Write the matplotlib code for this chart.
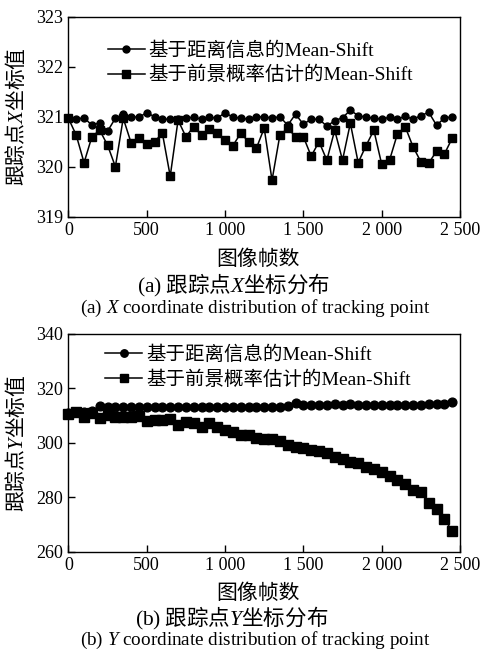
import matplotlib
matplotlib.use("Agg")
import matplotlib.pyplot as plt
from matplotlib.font_manager import FontProperties
from matplotlib.ticker import FuncFormatter

plt.rcParams['mathtext.fontset'] = 'custom'
plt.rcParams['mathtext.rm'] = 'Liberation Serif'
plt.rcParams['mathtext.it'] = 'Liberation Serif:italic'

frames = list(range(0, 2500, 50))

x_dist = [320.97, 320.95, 320.98, 320.83, 320.88, 320.71, 320.97, 321.05, 321.00, 320.99,
          321.08, 321.00, 320.95, 320.95, 320.95, 320.97, 320.99, 320.95, 320.99, 320.97,
          321.08, 320.99, 320.97, 320.95, 320.99, 321.00, 320.97, 321.00, 320.83, 321.05,
          320.85, 320.95, 320.95, 320.81, 320.92, 320.98, 321.13, 321.02, 320.99, 320.97,
          320.95, 320.99, 320.95, 321.01, 320.95, 321.02, 321.09, 320.83, 320.97, 321.00]
x_fg = [320.97, 320.63, 320.08, 320.60, 320.73, 320.43, 320.00, 320.97, 320.48, 320.57,
        320.45, 320.50, 320.67, 319.81, 320.93, 320.60, 320.80, 320.63, 320.75, 320.67,
        320.53, 320.42, 320.67, 320.50, 320.37, 320.77, 319.73, 320.63, 320.77, 320.60,
        320.60, 320.21, 320.50, 320.13, 320.73, 320.13, 320.87, 320.08, 320.42, 320.73,
        320.05, 320.13, 320.65, 320.80, 320.40, 320.10, 320.07, 320.31, 320.25, 320.57]

y_dist = [310.8, 311.2, 311.2, 311.6, 313.4, 313.2, 313.3, 313.2, 313.2, 313.3,
          313.2, 313.2, 313.3, 313.2, 313.2, 313.3, 313.2, 313.2, 313.3, 313.2,
          313.2, 313.3, 313.2, 313.2, 313.3, 313.2, 313.2, 313.3, 313.5, 314.5,
          313.9, 314.0, 314.0, 313.9, 314.1, 314.0, 314.3, 314.0, 314.0, 313.9,
          314.0, 314.0, 313.9, 314.0, 313.9, 314.0, 314.1, 314.2, 314.1, 314.8]
y_fg = [310.6, 311.4, 309.6, 310.8, 309.0, 310.2, 309.6, 309.6, 309.6, 309.8,
        308.1, 308.3, 308.3, 308.7, 306.7, 307.7, 307.1, 305.6, 307.1, 305.9,
        304.7, 304.0, 302.8, 302.8, 301.6, 301.4, 301.2, 300.7, 299.1, 298.5,
        297.9, 297.5, 296.9, 296.3, 294.8, 294.2, 293.0, 292.4, 291.2, 290.2,
        289.3, 287.7, 286.5, 285.0, 282.6, 282.0, 277.9, 275.8, 272.1, 267.6]

labels = ['基于距离信息的Mean-Shift', '基于前景概率估计的Mean-Shift']
x_ticks = [0, 500, 1000, 1500, 2000, 2500]
x_yticks = [319, 320, 321, 322, 323]
y_yticks = [260, 280, 300, 320, 340]

mixed = ['Liberation Serif', 'Noto Sans CJK SC']
serif = 'Liberation Serif'
cjk = 'Noto Sans CJK SC'

fig = plt.figure(figsize=(4.83, 6.54), dpi=100)
W, H = 483.0, 654.0

def axes_px(l, t, r, b):
    return fig.add_axes([l / W, 1 - b / H, (r - l) / W, (b - t) / H])

ax1 = axes_px(68.4, 16.7, 460, 216.7)
ax2 = axes_px(68.4, 333.8, 460, 551.7)

fmt = FuncFormatter(lambda v, p: f"{int(v):,}".replace(",", " "))

def style(ax, yticks):
    ax.set_xlim(0, 2500)
    ax.set_ylim(yticks[0], yticks[-1])
    ax.set_xticks(x_ticks)
    ax.set_yticks(yticks)
    ax.xaxis.set_major_formatter(fmt)
    ax.tick_params(direction='in', length=5, width=1, labelsize=13, pad=4,
                   top=False, right=False)
    for lab in ax.get_xticklabels() + ax.get_yticklabels():
        lab.set_family(serif)
    for s in ax.spines.values():
        s.set_linewidth(1)

def plot(ax, d1, d2, ms1, ms2):
    h1, = ax.plot(frames, d1, '-o', color='black', lw=1.1, ms=ms1, clip_on=False, zorder=3)
    h2, = ax.plot(frames, d2, '-s', color='black', lw=1.1, ms=ms2, clip_on=False, zorder=3)
    return h1, h2

h = plot(ax1, x_dist, x_fg, 5, 5.5)
style(ax1, x_yticks)
h2 = plot(ax2, y_dist, y_fg, 6.3, 6.8)
style(ax2, y_yticks)

lp = FontProperties(family=mixed, size=14)
ax1.legend(h, labels, loc='upper left', bbox_to_anchor=(0.101, 0.875), frameon=False,
           prop=lp, handlelength=1.9, handletextpad=0.2, labelspacing=0.3,
           borderpad=0, borderaxespad=0, numpoints=1, markerscale=1.0)
ax2.legend(h2, labels, loc='upper left', bbox_to_anchor=(0.094, 0.945), frameon=False,
           prop=lp, handlelength=1.9, handletextpad=0.2, labelspacing=0.3,
           borderpad=0, borderaxespad=0, numpoints=1, markerscale=0.85)

ax1.set_ylabel('跟踪点$X$坐标值', family=cjk, fontsize=15)
ax2.set_ylabel('跟踪点$Y$坐标值', family=cjk, fontsize=15)
ax1.yaxis.set_label_coords((27.5 - 68.4) / 391.6, 0.5)
ax2.yaxis.set_label_coords((27.5 - 68.4) / 391.6, 0.5)

def ftext(x, y, s, **kw):
    fig.text(x / W, 1 - y / H, s, ha='center', va='center', **kw)

ftext(258, 259, '图像帧数', family=cjk, fontsize=15)
ftext(234, 285, r'$\mathrm{(a)}$ 跟踪点$X$坐标分布', family=cjk, fontsize=15.5)
ftext(255, 308, r'(a) $X$ coordinate distribution of tracking point', family=serif, fontsize=13.8)

ftext(258, 593, '图像帧数', family=cjk, fontsize=15)
ftext(232, 618, r'$\mathrm{(b)}$ 跟踪点$Y$坐标分布', family=cjk, fontsize=15.5)
ftext(255, 640, r'(b) $Y$ coordinate distribution of tracking point', family=serif, fontsize=13.8)

fig.savefig('out.png', dpi=100)
